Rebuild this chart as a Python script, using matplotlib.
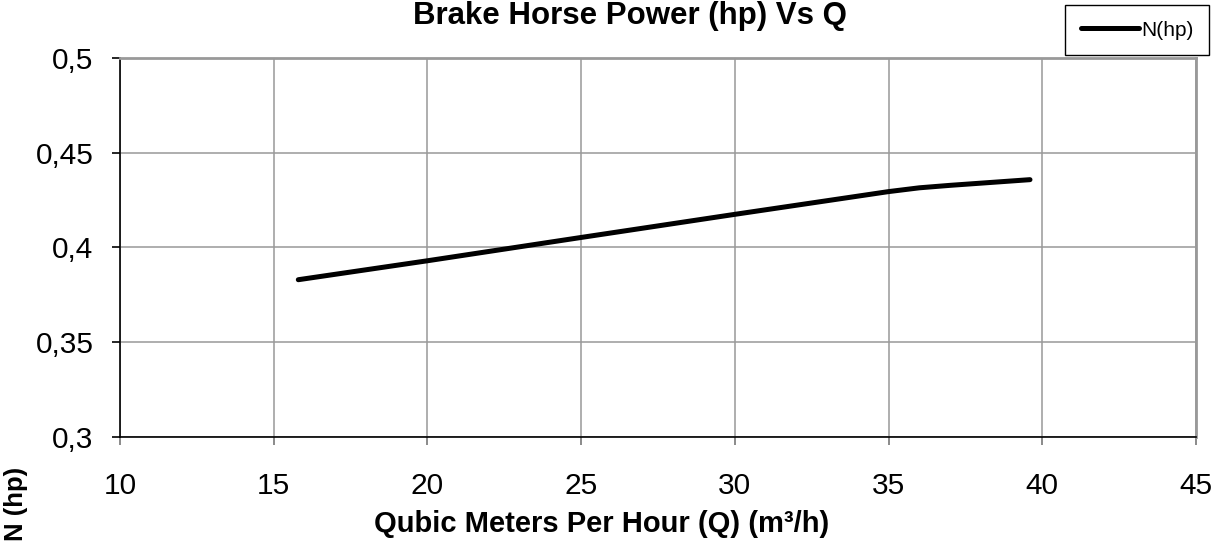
import matplotlib
matplotlib.use("Agg")
import matplotlib.pyplot as plt
from matplotlib.ticker import FuncFormatter

plt.rcParams['font.family'] = ['Liberation Sans', 'DejaVu Sans']

# Data
q_values = [15.8, 20, 25, 30, 35, 36, 37, 39.6]
n_hp = [0.383, 0.393, 0.4053, 0.4175, 0.4295, 0.4315, 0.4328, 0.4358]
series_name = "N(hp)"
title = "Brake Horse Power (hp) Vs Q"
xlabel = "Qubic Meters Per Hour (Q) (m³/h)"
ylabel = "N (hp)"
x_ticks = [10, 15, 20, 25, 30, 35, 40, 45]
y_ticks = [0.3, 0.35, 0.4, 0.45, 0.5]

fig = plt.figure(figsize=(12.18, 5.44), dpi=100)
ax = fig.add_axes([120/1218, 1-437/544, (1196-120)/1218, (437-58)/544])

line, = ax.plot(q_values, n_hp, color='black', lw=3.6, solid_capstyle='round',
                solid_joinstyle='round', label=series_name, zorder=3)

ax.set_xlim(10, 45)
ax.set_ylim(0.3, 0.5)
ax.set_xticks(x_ticks)
ax.set_yticks(y_ticks)
ax.xaxis.set_major_formatter(FuncFormatter(lambda v, p: f"{v:g}"))
ax.yaxis.set_major_formatter(FuncFormatter(lambda v, p: f"{v:g}".replace('.', ',')))

ax.grid(True, color='#999999', lw=1.1)
ax.set_axisbelow(True)
for s in ['top', 'right']:
    ax.spines[s].set_color('#999999')
    ax.spines[s].set_linewidth(2)
for s in ['left', 'bottom']:
    ax.spines[s].set_color('black')
    ax.spines[s].set_linewidth(1.2)

ax.tick_params(axis='x', direction='out', length=6, width=1.2, pad=19, labelsize=21.5,
               color='#777777')
ax.tick_params(axis='y', direction='out', length=6, width=1.2, pad=13, labelsize=21.5,
               color='black')

fig.text(630/1218, 1-16/544, title, ha='center', va='center', fontsize=22.5,
         fontweight='bold')
fig.text(602/1218, 1-524/544, xlabel, ha='center', va='center', fontsize=21,
         fontweight='bold')
fig.text(16/1218, 1-504/544, ylabel, ha='center', va='center', fontsize=18.5,
         fontweight='bold', rotation=90)

leg = fig.legend(handles=[line], loc='upper right',
                 bbox_to_anchor=(1209/1218, 1-5/544), fontsize=15,
                 handlelength=2.8, handletextpad=0.1, borderpad=0.75,
                 fancybox=False, framealpha=1, edgecolor='black',
                 borderaxespad=0)
leg.get_frame().set_linewidth(1.0)

fig.savefig("out.png", dpi=100)
